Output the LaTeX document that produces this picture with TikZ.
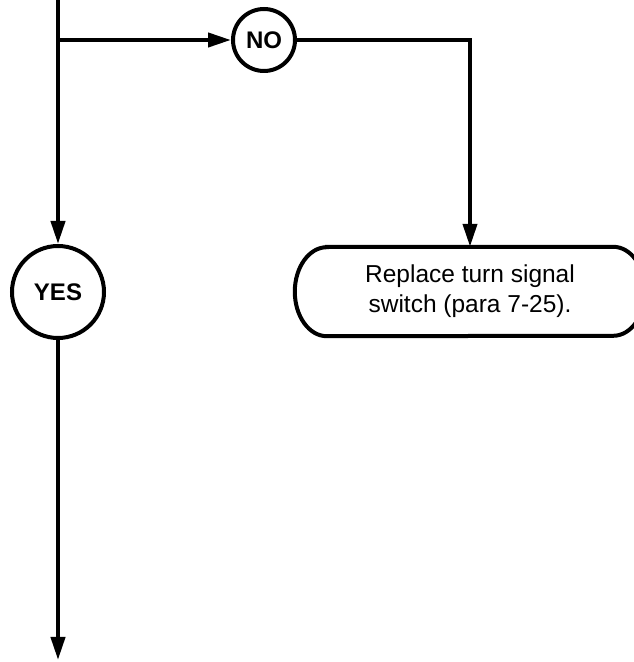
\documentclass[tikz,border=0pt]{standalone}
\usepackage{fontspec}
\setmainfont{Liberation Sans}
\usetikzlibrary{arrows.meta}
\begin{document}
\begin{tikzpicture}[x=1pt,y=1pt,
  conn/.style={line width=4pt},
  arr/.style={conn,-{Triangle[length=23pt,width=14pt]}},
  decision/.style={circle,draw,line width=4pt,inner sep=0pt,font=\fontsize{24}{28}\selectfont\bfseries},
  action/.style={rectangle,inner sep=0pt,minimum width=350pt,minimum height=89pt,align=center,font=\fontsize{24.5}{30}\selectfont}]
\useasboundingbox (0,0) rectangle (634,662);
\coordinate (top) at (58,662);
\coordinate (j) at (58,622);
\coordinate (corner) at (470,622);
\coordinate (bot) at (58,2);
\node[decision,minimum size=62pt] (no) at (264,622) {NO};
\node[decision,minimum size=92pt] (yes) at (58,370) {YES};
\node[action] (box) at (470,370.5) {Replace turn signal\\switch (para 7-25).};
\draw[line width=4pt] ([xshift=32pt]box.north west) -- ([xshift=-32pt]box.north east)
  arc[start angle=90,end angle=-90,x radius=32pt,y radius=44.5pt]
  -- ([xshift=32pt]box.south west)
  arc[start angle=270,end angle=90,x radius=32pt,y radius=44.5pt] -- cycle;
\draw[arr] (top) -- (j) -- (yes.north);
\draw[arr] (j) -- (no.west);
\draw[arr] (no.east) -- (corner) -- (box.north);
\draw[arr] (yes.south) -- (bot);
\end{tikzpicture}
\end{document}
